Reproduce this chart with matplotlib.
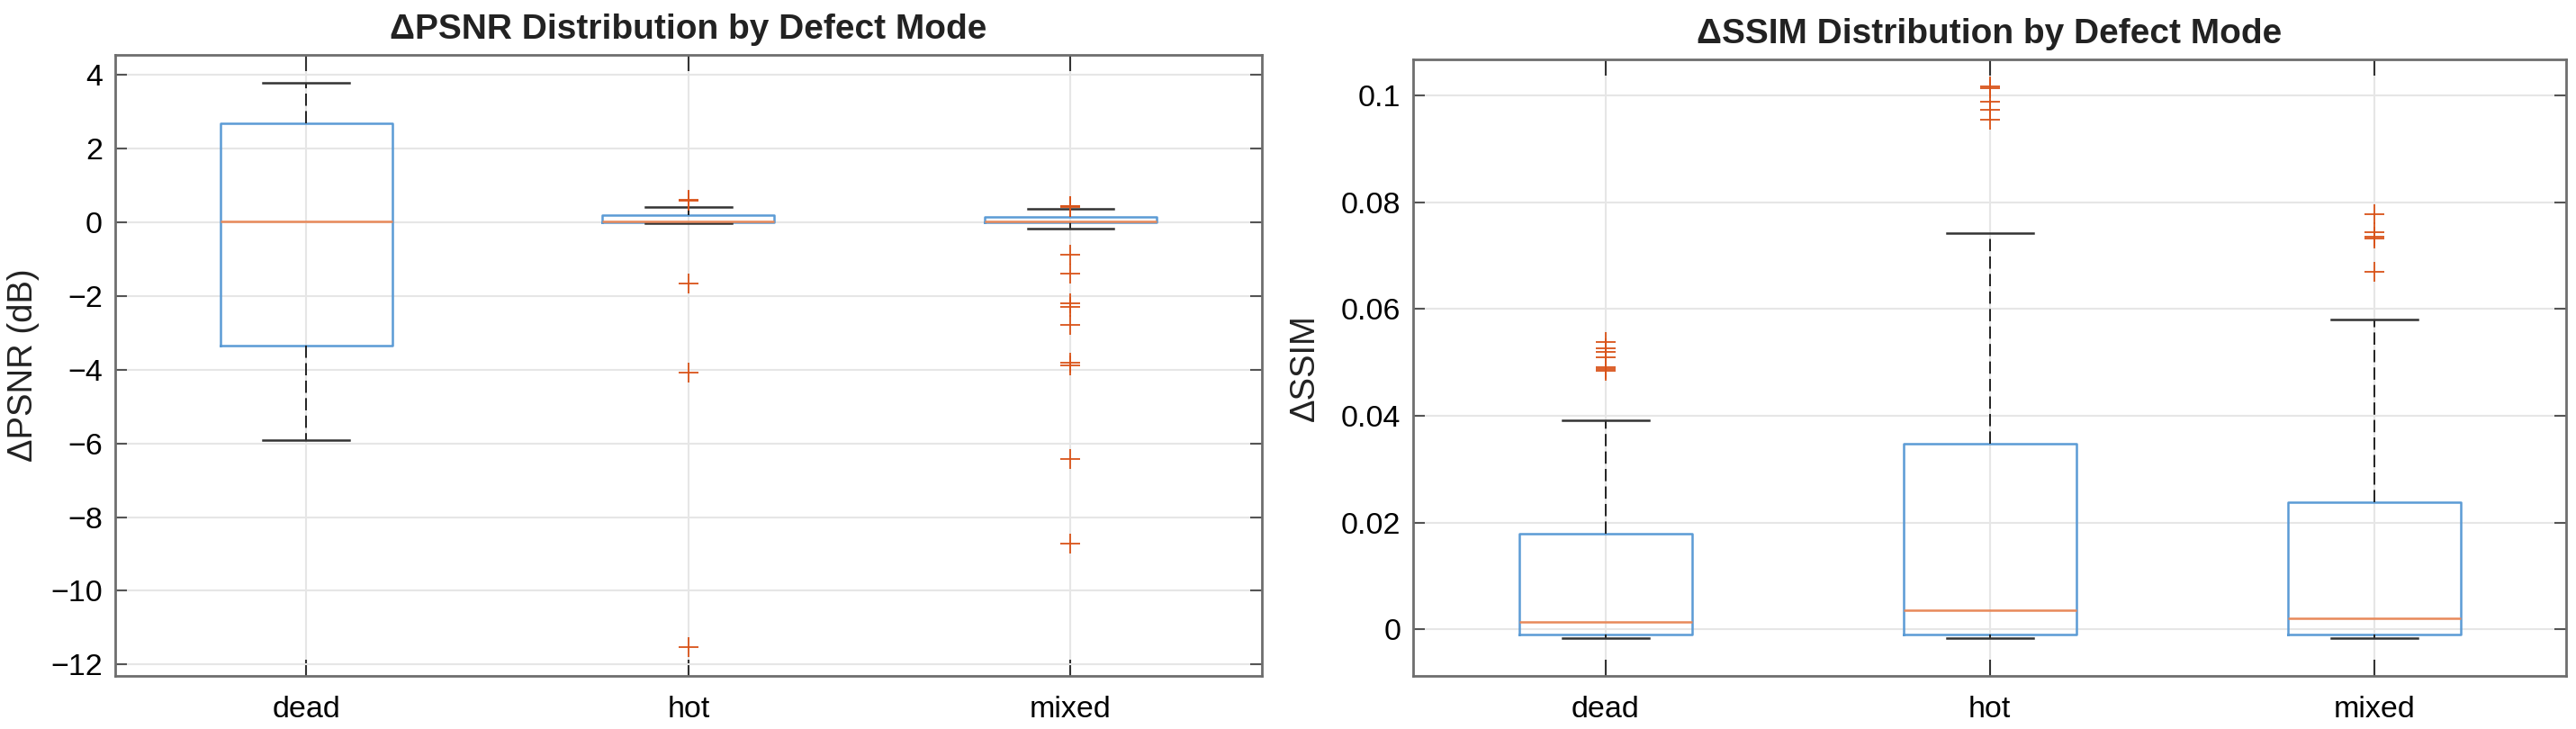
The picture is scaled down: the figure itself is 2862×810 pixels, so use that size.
import matplotlib
matplotlib.use("Agg")
import matplotlib.pyplot as plt

plt.rcParams['font.family'] = ['Liberation Sans', 'DejaVu Sans']

# categorias
modes = ['dead', 'hot', 'mixed']

# estatísticas ΔPSNR
psnr_whislo = [-5.92, -0.03, -0.16]
psnr_q1 = [-3.35, 0.00, 0.00]
psnr_med = [0.04, 0.02, 0.02]
psnr_q3 = [2.69, 0.20, 0.16]
psnr_whishi = [3.78, 0.43, 0.38]
psnr_dead_out = []
psnr_hot_out = [0.60, 0.62, -1.66, -4.08, -11.53]
psnr_mixed_out = [0.42, 0.44, 0.45, -0.87, -1.38, -2.20, -2.30, -2.78,
                  -3.80, -3.87, -6.41, -8.73]

# estatísticas ΔSSIM
ssim_whislo = [-0.0016, -0.0016, -0.0016]
ssim_q1 = [-0.0010, -0.0009, -0.0009]
ssim_med = [0.0014, 0.0036, 0.0021]
ssim_q3 = [0.0179, 0.0348, 0.0238]
ssim_whishi = [0.0392, 0.0742, 0.0580]
ssim_dead_out = [0.0538, 0.0527, 0.0519, 0.0509, 0.0492, 0.0487, 0.0484]
ssim_hot_out = [0.1017, 0.1013, 0.0988, 0.0973, 0.0954]
ssim_mixed_out = [0.0778, 0.0744, 0.0736, 0.0733, 0.0669]


def make_stats(lo, q1, med, q3, hi, outs):
    return [dict(label=m, whislo=lo[i], q1=q1[i], med=med[i], q3=q3[i],
                 whishi=hi[i], fliers=outs[i]) for i, m in enumerate(modes)]


fig = plt.figure(figsize=(28.62, 8.10), dpi=100)
ax1 = fig.add_axes([0.0447, 0.0728, 0.4451, 0.852])
ax2 = fig.add_axes([0.5486, 0.0728, 0.4476, 0.846])

paineis = [
    (ax1, make_stats(psnr_whislo, psnr_q1, psnr_med, psnr_q3, psnr_whishi,
                     [psnr_dead_out, psnr_hot_out, psnr_mixed_out]),
     (-12.31, 4.55), 'ΔPSNR Distribution by Defect Mode', 'ΔPSNR (dB)', -0.066,
     [-12, -10, -8, -6, -4, -2, 0, 2, 4], None),
    (ax2, make_stats(ssim_whislo, ssim_q1, ssim_med, ssim_q3, ssim_whishi,
                     [ssim_dead_out, ssim_hot_out, ssim_mixed_out]),
     (-0.0087, 0.1068), 'ΔSSIM Distribution by Defect Mode', 'ΔSSIM', -0.080,
     [0, 0.02, 0.04, 0.06, 0.08, 0.1], ['0', '0.02', '0.04', '0.06', '0.08', '0.1']),
]

for ax, stats, ylim, titulo, ylab, lx, yt, ytl in paineis:
    ax.bxp(stats, positions=[1, 2, 3], widths=0.45, showfliers=True,
           boxprops=dict(color='#5b9bd5', linewidth=1.8),
           medianprops=dict(color='#e8895a', linewidth=1.8),
           whiskerprops=dict(color='#222222', linewidth=1.4, linestyle=(0, (7, 3))),
           capprops=dict(color='#333333', linewidth=1.8),
           flierprops=dict(marker='+', markeredgecolor='#d95319',
                           markersize=16, markeredgewidth=1.3, linestyle='none'))
    ax.set_xlim(0.5, 3.5)
    ax.set_ylim(*ylim)
    ax.set_yticks(yt)
    if ytl is not None:
        ax.set_yticklabels(ytl)
    ax.set_xticks([1, 2, 3])
    ax.set_xticklabels(modes)
    ax.grid(True, color='#e6e6e6', linewidth=1.5)
    ax.set_axisbelow(True)
    ax.tick_params(axis='y', direction='in', length=9.5, width=1.5, color='#555555',
                   left=True, right=True, labelsize=24.5, pad=10)
    ax.tick_params(axis='x', direction='in', length=13, width=1.5, color='#333333',
                   top=True, bottom=True, labelsize=24.5, pad=16)
    for s in ax.spines.values():
        s.set_color('#6e6e6e')
        s.set_linewidth(2)
    ax.set_title(titulo, fontsize=28, fontweight='bold', color='#222222', pad=13)
    ax.set_ylabel(ylab, fontsize=27.5, color='#222222')
    ax.yaxis.set_label_coords(lx, 0.5)

fig.savefig('out.png', dpi=100)
